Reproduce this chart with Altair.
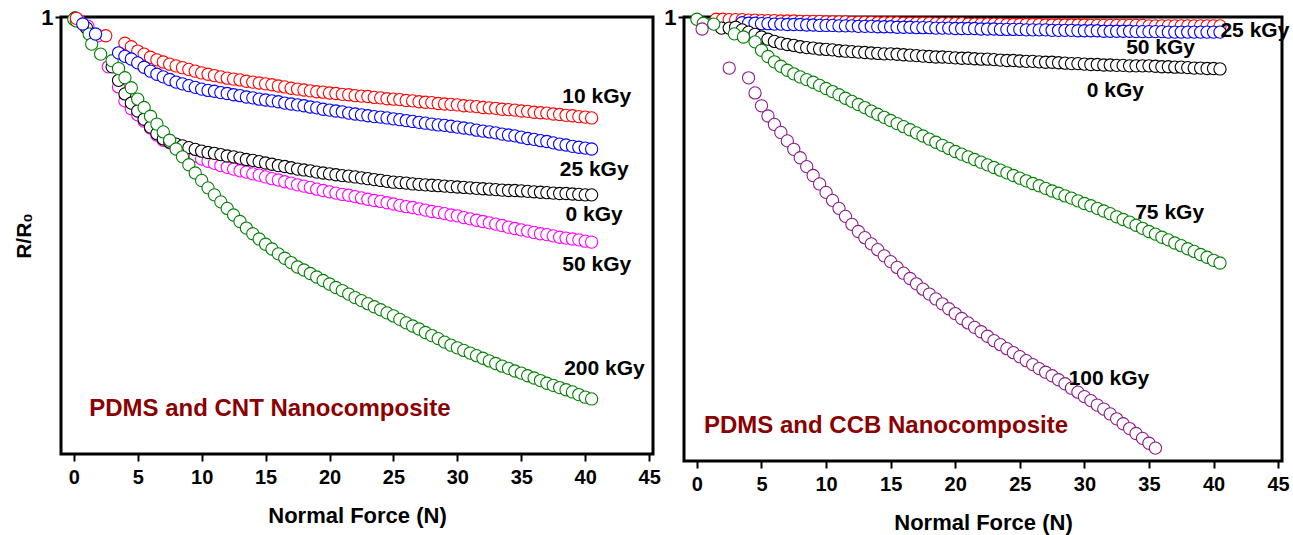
import altair as alt
import pandas as pd

FONT = "Liberation Sans"

# shared force grid (N)
FORCE = [3.0, 3.5, 4.0, 4.5, 5.0, 5.5, 6.0, 6.5, 7.0, 7.5,
         8.0, 8.5, 9.0, 9.5, 10.0, 10.5, 11.0, 11.5, 12.0, 12.5,
         13.0, 13.5, 14.0, 14.5, 15.0, 15.5, 16.0, 16.5, 17.0, 17.5,
         18.0, 18.5, 19.0, 19.5, 20.0, 20.5, 21.0, 21.5, 22.0, 22.5,
         23.0, 23.5, 24.0, 24.5, 25.0, 25.5, 26.0, 26.5, 27.0, 27.5,
         28.0, 28.5, 29.0, 29.5, 30.0, 30.5, 31.0, 31.5, 32.0, 32.5,
         33.0, 33.5, 34.0, 34.5, 35.0, 35.5, 36.0, 36.5, 37.0, 37.5,
         38.0, 38.5, 39.0, 39.5, 40.0, 40.5]

X_TICKS = [0, 2.5, 5, 7.5, 10, 12.5, 15, 17.5, 20, 22.5, 25, 27.5, 30, 32.5, 35, 37.5, 40, 42.5, 45]

# ---------------- PDMS / CNT ----------------
CNT_10 = [None, None, .940, .932, .922, .915, .908, .902, .897, .892,
          .888, .884, .880, .876, .872, .869, .866, .863, .860, .858,
          .856, .853, .851, .849, .847, .845, .842, .840, .837, .835,
          .833, .831, .829, .828, .826, .825, .823, .822, .820, .819,
          .818, .816, .815, .813, .812, .811, .809, .808, .806, .805,
          .804, .802, .801, .800, .799, .797, .796, .795, .793, .792,
          .791, .789, .788, .787, .785, .784, .782, .781, .780, .778,
          .777, .775, .774, .772, .771, .769]
CNT_25 = [None, .918, .910, .904, .895, .885, .876, .869, .863, .857,
          .851, .847, .843, .839, .835, .832, .830, .827, .825, .822,
          .820, .817, .815, .812, .810, .808, .806, .803, .801, .799,
          .797, .794, .792, .789, .787, .785, .783, .780, .778, .776,
          .774, .772, .771, .769, .767, .765, .763, .761, .759, .757,
          .755, .753, .752, .750, .748, .746, .744, .741, .739, .737,
          .735, .732, .730, .728, .725, .722, .720, .717, .715, .712,
          .709, .707, .704, .702, .700, .698]
CNT_0 = [.886, .855, .824, .803, .785, .766, .748, .733, .721, .714,
         .709, .705, .701, .697, .693, .690, .688, .685, .682, .680,
         .677, .674, .672, .669, .666, .663, .660, .658, .655, .652,
         .650, .648, .645, .643, .641, .639, .637, .636, .634, .632,
         .630, .628, .626, .624, .622, .621, .620, .618, .617, .616,
         .615, .614, .613, .612, .611, .610, .609, .608, .607, .606,
         .605, .604, .603, .603, .602, .601, .600, .599, .598, .597,
         .596, .596, .595, .594, .593, .593]
CNT_50 = [None, .840, .808, .790, .776, .762, .746, .730, .718, .712,
          .705, .697, .689, .682, .675, .670, .665, .660, .656, .652,
          .648, .645, .641, .638, .634, .630, .627, .623, .620, .616,
          .613, .610, .606, .603, .600, .597, .594, .592, .589, .586,
          .583, .580, .578, .575, .572, .569, .566, .564, .561, .558,
          .555, .553, .550, .547, .545, .541, .538, .535, .532, .529,
          .526, .523, .519, .516, .513, .510, .507, .504, .502, .499,
          .496, .494, .492, .490, .487, .485]
CNT_200 = [.900, .882, .861, .838, .812, .793, .773, .755, .737, .718,
           .698, .680, .662, .643, .626, .609, .593, .577, .562, .547,
           .532, .517, .504, .492, .480, .469, .458, .448, .438, .428,
           .421, .413, .405, .397, .389, .381, .374, .366, .358, .351,
           .344, .337, .330, .323, .316, .308, .300, .293, .286, .278,
           .271, .264, .256, .249, .243, .237, .231, .225, .219, .213,
           .207, .201, .196, .190, .185, .179, .174, .168, .162, .157,
           .152, .147, .142, .136, .130, .126]

CNT_EARLY_F = {"10 kGy": [0.2, 2.5], "25 kGy": [0.7, 1.7], "0 kGy": [0.1, 1.0],
               "50 kGy": [0.4, 1.1, 1.9, 2.7], "200 kGy": [0.0, 0.2, 1.2, 1.4, 2.1]}
CNT_EARLY_R = {"10 kGy": [0.997, 0.957], "25 kGy": [0.984, 0.961], "0 kGy": [0.998, 0.975],
               "50 kGy": [0.992, 0.979, 0.957, 0.886], "200 kGy": [0.995, 0.991, 0.961, 0.938, 0.915]}

CNT_NAMES = ["50 kGy", "0 kGy", "200 kGy", "10 kGy", "25 kGy"]   # drawing order
CNT_COLORS = ["#FF00FF", "#000000", "#008000", "#FF0000", "#0000FF"]
CNT_SERIES = {"10 kGy": CNT_10, "25 kGy": CNT_25, "0 kGy": CNT_0, "50 kGy": CNT_50, "200 kGy": CNT_200}
CNT_LABELS = ["10 kGy", "25 kGy", "0 kGy", "50 kGy", "200 kGy"]
CNT_LAB_F = [40.9, 40.7, 40.7, 40.9, 41.5]
CNT_LAB_R = [0.817, 0.650, 0.547, 0.432, 0.195]

# ---------------- PDMS / CCB ----------------
CCB_25 = [.994, .994, .993, .993, .992, .992, .992, .991, .991, .991,
          .990, .990, .990, .990, .989, .989, .989, .989, .988, .988,
          .988, .988, .987, .987, .987, .987, .986, .986, .986, .986,
          .986, .985, .985, .985, .985, .985, .984, .984, .984, .984,
          .984, .984, .983, .983, .983, .983, .983, .983, .982, .982,
          .982, .982, .982, .982, .982, .981, .981, .981, .981, .981,
          .981, .981, .981, .981, .980, .980, .980, .980, .980, .980,
          .980, .980, .980, .980, .980, .980]
CCB_50 = [None, .987, .986, .986, .985, .985, .984, .984, .983, .983,
          .983, .982, .982, .981, .981, .981, .980, .980, .980, .979,
          .979, .979, .978, .978, .978, .977, .977, .977, .976, .976,
          .976, .975, .975, .975, .974, .974, .974, .974, .973, .973,
          .973, .972, .972, .972, .972, .971, .971, .971, .971, .970,
          .970, .970, .970, .969, .969, .969, .969, .968, .968, .968,
          .968, .968, .967, .967, .967, .967, .967, .966, .966, .966,
          .966, .966, .966, .966, .966, .966]
CCB_0 = [.977, .971, .966, .961, .955, .950, .945, .941, .938, .936,
         .933, .931, .930, .928, .927, .926, .924, .923, .922, .921,
         .920, .919, .918, .917, .917, .916, .915, .914, .913, .912,
         .911, .910, .910, .909, .908, .907, .907, .906, .905, .905,
         .904, .903, .902, .902, .901, .900, .900, .899, .898, .898,
         .897, .896, .895, .895, .894, .893, .893, .892, .892, .891,
         .891, .890, .890, .890, .890, .889, .888, .888, .887, .887,
         .886, .885, .885, .884, .884, .883]
CCB_75 = [None, None, None, .944, .925, .911, .899, .889, .880, .872,
          .865, .859, .853, .846, .839, .832, .825, .817, .810, .803,
          .796, .788, .781, .774, .767, .760, .753, .746, .739, .732,
          .725, .718, .711, .704, .697, .691, .685, .679, .673, .667,
          .661, .655, .649, .643, .637, .631, .625, .620, .614, .608,
          .603, .597, .592, .586, .580, .575, .569, .563, .557, .550,
          .544, .538, .531, .524, .517, .511, .504, .498, .491, .485,
          .478, .472, .465, .459, .452, .446]
CCB_100 = [None, None, .863, .829, .800, .777, .758, .740, .721, .702,
           .683, .663, .643, .624, .605, .587, .569, .551, .533, .517,
           .503, .489, .476, .462, .449, .436, .423, .411, .399, .387,
           .376, .365, .354, .343, .332, .321, .311, .301, .291, .281,
           .271, .262, .253, .244, .235, .226, .217, .208, .200, .192,
           .183, .174, .164, .155, .145, .136, .126, .117, .106, .095,
           .084, .073, .062, .051, .040, .029, None, None, None, None,
           None, None, None, None, None, None]

CCB_EARLY_F = {"25 kGy": [1.5, 2.0, 2.5], "50 kGy": [], "0 kGy": [1.9, 2.5],
               "75 kGy": [0.0, 0.5, 1.3, 2.9, 3.6], "100 kGy": [0.4, 2.5]}
CCB_EARLY_R = {"25 kGy": [0.995, 0.995, 0.994], "50 kGy": [], "0 kGy": [0.975, 0.975],
               "75 kGy": [0.995, 0.986, 0.984, 0.962, 0.955], "100 kGy": [0.973, 0.885]}

CCB_NAMES = ["25 kGy", "50 kGy", "0 kGy", "75 kGy", "100 kGy"]
CCB_COLORS = ["#FF0000", "#0000FF", "#000000", "#008000", "#8B1A8B"]
CCB_SERIES = {"25 kGy": CCB_25, "50 kGy": CCB_50, "0 kGy": CCB_0, "75 kGy": CCB_75, "100 kGy": CCB_100}
CCB_LABELS = ["25 kGy", "50 kGy", "0 kGy", "75 kGy", "100 kGy"]
CCB_LAB_F = [43.2, 35.9, 32.4, 36.6, 31.9]
CCB_LAB_R = [0.968, 0.930, 0.833, 0.559, 0.185]

NOTE_CNT = "PDMS and CNT Nanocomposite"
NOTE_CCB = "PDMS and CCB Nanocomposite"


def make_points(names, colors, series, early_f, early_r):
    rows = []
    for n, c in zip(names, colors):
        for f, r in zip(early_f[n], early_r[n]):
            rows.append({"F": f, "R": r, "S": n, "C": c})
        for f, r in zip(FORCE, series[n]):
            if r is not None:
                rows.append({"F": f, "R": r, "S": n, "C": c})
    return pd.DataFrame(rows)


def panel(names, colors, series, early_f, early_r, labels, lab_f, lab_r,
          note, note_f, note_r, y_title, w, h):
    pts = make_points(names, colors, series, early_f, early_r)
    x_enc = alt.X("F:Q", scale=alt.Scale(domain=[-1, 45.3], nice=False, zero=False),
                  axis=alt.Axis(values=X_TICKS, title="Normal Force (N)",
                                labelExpr="datum.value % 5 === 0 ? datum.label : ''"))
    y_enc = alt.Y("R:Q", scale=alt.Scale(domain=[0, 1], nice=False, zero=False),
                  axis=alt.Axis(values=[1], format="d", title=y_title))
    points = alt.Chart(pts).mark_point(
        shape="circle", filled=True, fill="white", size=150, strokeWidth=1.1, opacity=1
    ).encode(
        x=x_enc, y=y_enc,
        stroke=alt.Stroke("C:N", scale=None, legend=None),
    )
    lab_df = pd.DataFrame({"F": lab_f, "R": lab_r, "T": labels})
    texts = alt.Chart(lab_df).mark_text(
        font=FONT, fontSize=21, fontWeight="bold", color="black"
    ).encode(x="F:Q", y="R:Q", text="T:N")
    note_df = pd.DataFrame({"F": [note_f], "R": [note_r], "T": [note]})
    note_t = alt.Chart(note_df).mark_text(
        font=FONT, fontSize=24, fontWeight="bold", color="#8B0000", align="left"
    ).encode(x="F:Q", y="R:Q", text="T:N")
    return alt.layer(points, texts, note_t).properties(width=w, height=h)


left = panel(CNT_NAMES, CNT_COLORS, CNT_SERIES, CNT_EARLY_F, CNT_EARLY_R,
             CNT_LABELS, CNT_LAB_F, CNT_LAB_R, NOTE_CNT, 1.2, 0.103, "R/R₀", 592, 437)
right = panel(CCB_NAMES, CCB_COLORS, CCB_SERIES, CCB_EARLY_F, CCB_EARLY_R,
              CCB_LABELS, CCB_LAB_F, CCB_LAB_R, NOTE_CCB, 0.55, 0.079, "", 598, 444)

chart = alt.hconcat(left, right, spacing=0).properties(
    padding={"left": 12, "top": 4, "right": 2, "bottom": 2},
    background="white",
).configure_view(
    stroke="black", strokeWidth=3
).configure_axis(
    grid=False, domain=False,
    labelFont=FONT, labelFontWeight="bold", labelColor="black",
    titleFont=FONT, titleFontWeight="bold", titleColor="black", titleFontSize=22,
    tickColor="black", tickWidth=2,
).configure_axisX(
    labelFontSize=20, tickSize=7, labelPadding=6, titlePadding=18,
).configure_axisY(
    labelFontSize=22, tickSize=6, labelPadding=2, titlePadding=6, titleFontSize=21,
)

chart.save("out.html", embed_options={"renderer": "svg", "actions": False})
